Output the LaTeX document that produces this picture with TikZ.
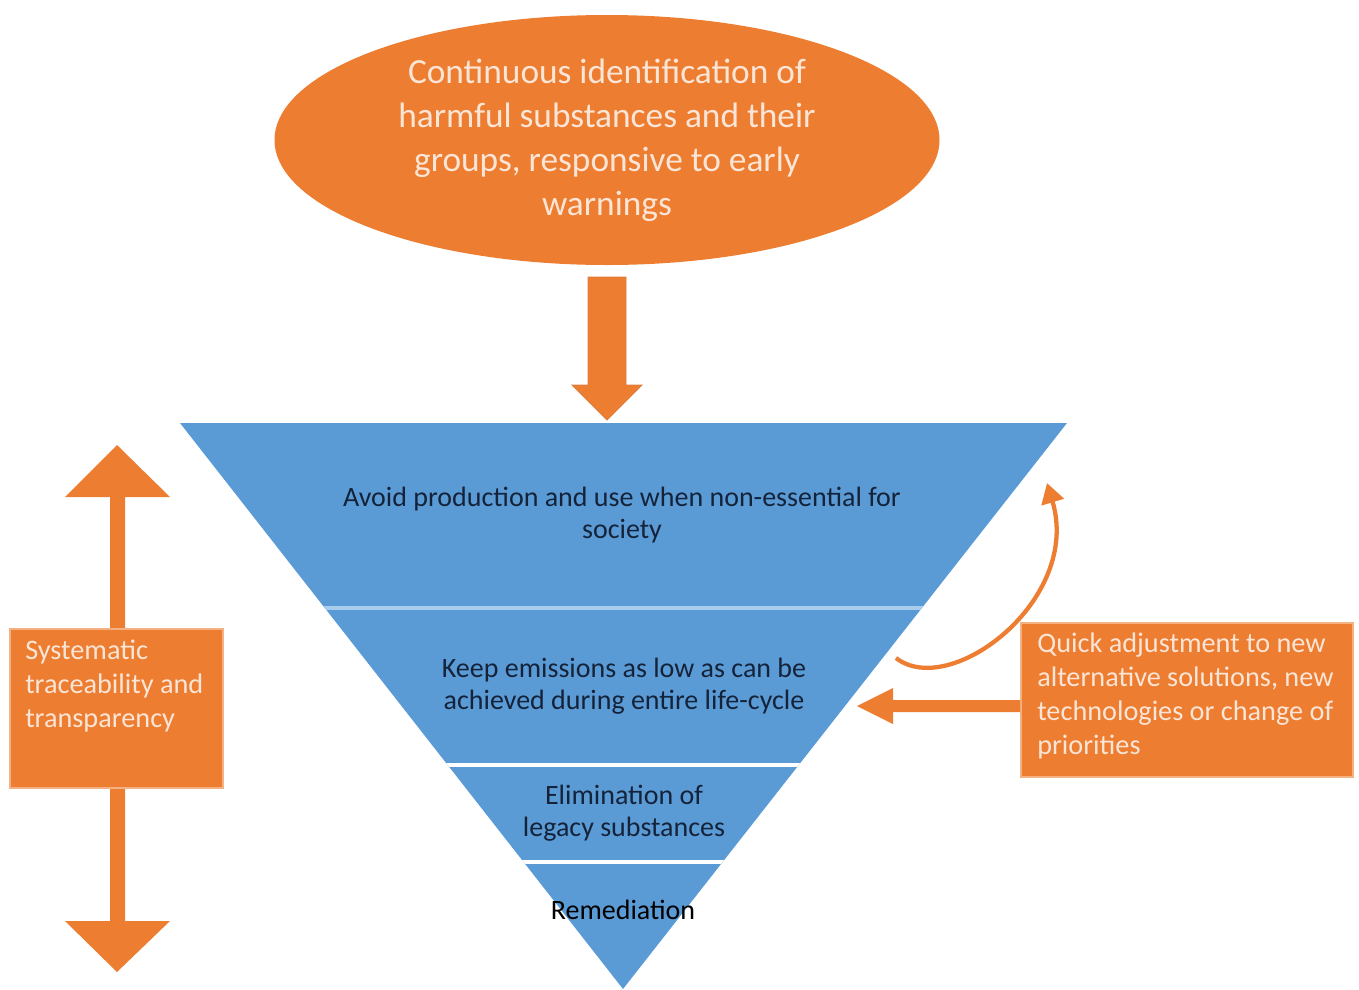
\documentclass[tikz,border=0pt]{standalone}
\usepackage{fontspec}
\setmainfont{Carlito}
\usetikzlibrary{shapes.geometric,arrows.meta}
\definecolor{obl}{HTML}{5B9BD5}
\definecolor{oor}{HTML}{ED7D31}
\definecolor{oedge}{HTML}{F4B183}
\definecolor{peach}{HTML}{FBE5D6}
\definecolor{dtext}{HTML}{14233A}
\definecolor{lbl}{HTML}{A9CBEC}
\tikzset{
  bigtxt/.style={font=\fontsize{26.5}{33}\selectfont, text=peach, align=center, inner sep=0pt},
  lvltxt/.style={font=\fontsize{21}{24}\selectfont, text=dtext, align=center, inner sep=0pt},
  boxtxt/.style={font=\fontsize{21.2}{25.5}\selectfont, text=peach, align=left, inner sep=0pt, anchor=north west},
  obox/.style={rectangle, fill=oor, draw=oedge, line width=1.2pt, inner sep=0pt},
  blockarrow/.style={fill=oor, draw=oor!85!gray, line width=0.6pt},
  divider/.style={line width=3pt},
}
\begin{document}
\begin{tikzpicture}[x=0.75pt,y=-0.75pt]
\useasboundingbox (0,0) rectangle (1359,989);
% top ellipse
\node[ellipse, fill=oor, minimum width=498.75pt, minimum height=187.5pt, inner sep=0pt] (ell) at (607,140) {};
\node[bigtxt] (elltxt) at (607,140) {Continuous identification of\\harmful substances and their\\groups, responsive to early\\warnings};
% down block arrow
\draw[blockarrow] (588,277) -- (626,277) -- (626,385) -- (642,385) -- (607,420) -- (572,385) -- (588,385) -- cycle;
% inverted triangle
\coordinate (tl) at (180,423);
\coordinate (tr) at (1067,423);
\coordinate (tb) at (623,989);
\fill[obl] (tl) -- (tr) -- (tb) -- cycle;
\begin{scope}
\clip (tl) -- (tr) -- (tb) -- cycle;
\draw[divider, lbl] (0,608) -- (1359,608);
\draw[divider, white] (0,765) -- (1359,765);
\draw[divider, white] (0,862) -- (1359,862);
\end{scope}
\node[lvltxt] (l1) at (622,515) {Avoid production and use when non-essential for\\society};
\node[lvltxt] (l2) at (624,686) {Keep emissions as low as can be\\achieved during entire life-cycle};
\node[lvltxt] (l3) at (624,813) {Elimination of\\legacy substances};
\node[lvltxt, text=black] (l4) at (623,910) {Remediation};
% left double arrow
\fill[oor] (117,445) -- (170,497) -- (125,497) -- (125,921) -- (170,921) -- (117,972) -- (65,921) -- (110,921) -- (110,497) -- (65,497) -- cycle;
\node[obox, minimum width=159.75pt, minimum height=119.25pt] (lbox) at (116.5,708.5) {};
\node[boxtxt] (lboxtxt) at (25,640) {Systematic\\traceability and\\transparency};
% right box
\node[obox, minimum width=249pt, minimum height=115.5pt] (rbox) at (1187,700) {};
\node[boxtxt] (rboxtxt) at (1037,633) {Quick adjustment to new\\alternative solutions, new\\technologies or change of\\priorities};
% horizontal arrow from right box to level 2
\fill[oor] (rbox.west |- 0,700) -- (893,700) -- (893,688) -- (857,706) -- (893,724) -- (893,712) -- (rbox.west |- 0,712) -- cycle;
% curved arrow up to top level
\coordinate (cstart) at (896,658);
\coordinate (cend) at (1047,483);
\draw[oor, line width=3.2pt, -{Triangle[width=17pt,length=15pt]}] (cstart) .. controls (950,700) and (1082,600) .. (cend);
\end{tikzpicture}
\end{document}
